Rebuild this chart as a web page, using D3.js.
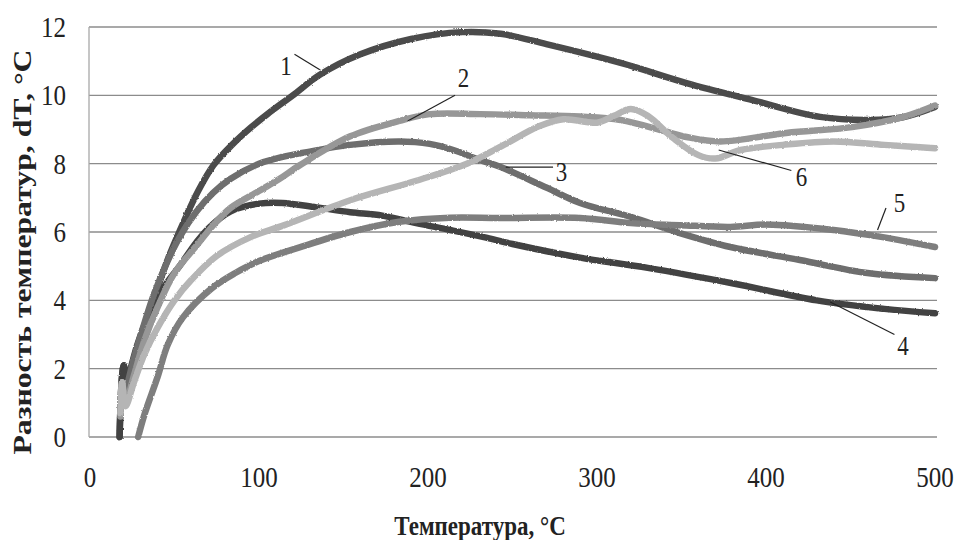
<!DOCTYPE html>
<html>
<head>
<meta charset="utf-8">
<script src="https://cdn.jsdelivr.net/npm/d3@7/dist/d3.min.js"></script>
<style>
  body { margin: 0; background: #fff; }
  text { font-family: "Liberation Serif", "DejaVu Serif", serif; fill: #222; }
</style>
</head>
<body>
<div id="chart-area"></div>
<script>
// x: temperature, C ; y: dT, C
const xTicks = [0, 100, 200, 300, 400, 500];
const yTicks = [0, 2, 4, 6, 8, 10, 12];

const curve1 = [[17.5,0],[19,1.8],[20,2.1],[21.5,1.6],[24,1.9],[27,2.3],[33,3.2],[39,4.2],[46,5.2],[55,6.25],[64,7.2],[73,7.95],[84,8.55],[95,9.05],[105,9.45],[120,10.0],[136,10.6],[160,11.2],[190,11.65],[220,11.85],[243,11.8],[270,11.5],[314,10.95],[353,10.36],[392,9.86],[432,9.37],[461,9.28],[481,9.36],[500,9.66]];
const curve2 = [[18,0.6],[19,1.6],[21,1.0],[26,1.8],[32,2.8],[40,3.8],[50,4.8],[63,5.6],[73,6.2],[83,6.7],[100,7.2],[112,7.55],[124,7.95],[154,8.8],[183,9.25],[201,9.45],[231,9.45],[260,9.42],[290,9.38],[314,9.28],[340,8.95],[353,8.78],[373,8.65],[412,8.9],[451,9.07],[481,9.36],[500,9.7]];
const curve3 = [[19,0.9],[21,1.3],[26,2.3],[32,3.3],[38,4.2],[45.5,5.1],[53,5.85],[63,6.6],[73,7.15],[83,7.55],[100,8.0],[110,8.15],[124,8.3],[154,8.55],[183,8.65],[201,8.58],[215,8.4],[231,8.1],[243,7.9],[270,7.3],[290,6.85],[320,6.44],[349,5.97],[379,5.56],[420,5.18],[460,4.8],[500,4.65]];
const curve4 = [[17.5,0],[19,1.8],[20,2.1],[21.5,1.6],[24,2.0],[28,2.7],[34,3.5],[40,4.1],[46,4.55],[53,5.0],[63,5.7],[71,6.15],[83,6.6],[100,6.83],[114,6.85],[134,6.72],[154,6.58],[173,6.48],[193,6.26],[213,6.06],[233,5.85],[250,5.65],[290,5.25],[330,4.95],[380,4.5],[430,4.0],[470,3.75],[500,3.62]];
const curve5 = [[28.5,0],[32.5,0.7],[40,1.76],[46,2.7],[55,3.5],[72,4.35],[86,4.8],[100,5.15],[124,5.55],[154,6.0],[183,6.3],[213,6.42],[243,6.41],[290,6.41],[320,6.26],[349,6.2],[379,6.15],[400,6.22],[440,6.06],[469,5.85],[500,5.56]];
const curve6 = [[18,0.7],[19,1.6],[21,0.9],[26,1.6],[32,2.4],[40,3.2],[50,4.0],[60,4.6],[75,5.3],[95,5.85],[115,6.2],[154,6.93],[193,7.5],[223,8.0],[243,8.5],[266,9.1],[280,9.3],[300,9.2],[310,9.4],[320,9.6],[330,9.4],[345,8.75],[360,8.25],[370,8.15],[385,8.4],[410,8.55],[440,8.65],[470,8.55],[500,8.45]];

const seriesNames = ['1', '4', '3', '5', '2', '6'];
const seriesData = [curve1, curve4, curve3, curve5, curve2, curve6];
const seriesColors = ['#4b4b4b', '#434343', '#6e6e6e', '#7e7e7e', '#979797', '#b5b5b5'];

// label text, label position and leader end, all in data units
const labelNames = ['1', '2', '3', '4', '5', '6'];
const labelPos = [[116, 10.85], [221, 10.5], [279, 7.75], [481, 2.65], [479, 6.85], [421, 7.6]];
const leaderFrom = [[121, 11.2], [216, 10.0], [246, 7.9], [476, 3.0], [471, 6.7], [415, 7.8]];
const leaderTo = [[136, 10.75], [188, 9.25], [274, 7.9], [438, 3.95], [466, 6.06], [372, 8.4]];

const W = 959, H = 540;
const svg = d3.select('#chart-area')
  .append('svg')
  .attr('width', W)
  .attr('height', H);

const x = d3.scaleLinear().domain([0, 500]).range([90, 935]);
const y = d3.scaleLinear().domain([0, 12]).range([437, 27]);

// rough edge for the measured traces
const defs = svg.append('defs');
const f = defs.append('filter').attr('id', 'rough')
  .attr('x', '-5%').attr('y', '-5%').attr('width', '110%').attr('height', '110%');
f.append('feTurbulence').attr('type', 'fractalNoise').attr('baseFrequency', 0.6)
  .attr('numOctaves', 2).attr('seed', 3).attr('result', 'n');
f.append('feDisplacementMap').attr('in', 'SourceGraphic').attr('in2', 'n')
  .attr('scale', 2.2).attr('xChannelSelector', 'R').attr('yChannelSelector', 'G');

// gridlines
svg.append('g')
  .selectAll('line')
  .data(yTicks)
  .enter()
  .append('line')
  .attr('x1', 89).attr('x2', 937)
  .attr('y1', (d) => y(d)).attr('y2', (d) => y(d))
  .attr('stroke', '#8c8c8c')
  .attr('stroke-width', 1.3);

svg.append('line')
  .attr('x1', 89).attr('x2', 89)
  .attr('y1', y(12)).attr('y2', y(0))
  .attr('stroke', '#a8a8a8')
  .attr('stroke-width', 1.3);

// tick labels (picture is stretched a bit vertically)
svg.append('g')
  .selectAll('text')
  .data(yTicks)
  .enter()
  .append('text')
  .attr('transform', (d) => 'translate(66,' + (y(d) + 10) + ') scale(1,1.2)')
  .attr('text-anchor', 'end')
  .attr('font-size', 25)
  .text((d) => d);

svg.append('g')
  .selectAll('text')
  .data(xTicks)
  .enter()
  .append('text')
  .attr('transform', (d) => 'translate(' + x(d) + ',487) scale(1,1.2)')
  .attr('text-anchor', 'middle')
  .attr('font-size', 25)
  .text((d) => d);

// curves
const line = d3.line()
  .x((d) => x(d[0]))
  .y((d) => y(d[1]))
  .curve(d3.curveCatmullRom.alpha(0.5));

svg.append('g')
  .attr('filter', 'url(#rough)')
  .selectAll('path')
  .data(seriesData)
  .enter()
  .append('path')
  .attr('d', line)
  .attr('fill', 'none')
  .attr('stroke', (d, i) => seriesColors[i])
  .attr('stroke-width', 6.5)
  .attr('stroke-linecap', 'round')
  .attr('stroke-linejoin', 'round');

// curve labels
svg.append('g')
  .selectAll('line')
  .data(labelNames)
  .enter()
  .append('line')
  .attr('x1', (d, i) => x(leaderFrom[i][0]))
  .attr('y1', (d, i) => y(leaderFrom[i][1]))
  .attr('x2', (d, i) => x(leaderTo[i][0]))
  .attr('y2', (d, i) => y(leaderTo[i][1]))
  .attr('stroke', '#222')
  .attr('stroke-width', 1.2);

svg.append('g')
  .selectAll('text')
  .data(labelNames)
  .enter()
  .append('text')
  .attr('transform', (d, i) => 'translate(' + x(labelPos[i][0]) + ',' + (y(labelPos[i][1]) + 9) + ') scale(1,1.2)')
  .attr('text-anchor', 'middle')
  .attr('font-size', 23)
  .text((d) => d);

// axis titles
svg.append('text')
  .attr('transform', 'translate(480,535) scale(1,1.2)')
  .attr('text-anchor', 'middle')
  .attr('font-size', 23)
  .attr('font-weight', 'bold')
  .text('Температура, °C');

svg.append('text')
  .attr('transform', 'translate(31,252) rotate(-90)')
  .attr('text-anchor', 'middle')
  .attr('font-size', 25)
  .attr('font-weight', 'bold')
  .attr('textLength', 405)
  .attr('lengthAdjust', 'spacingAndGlyphs')
  .text('Разность температур, dT, °C');
</script>
</body>
</html>
